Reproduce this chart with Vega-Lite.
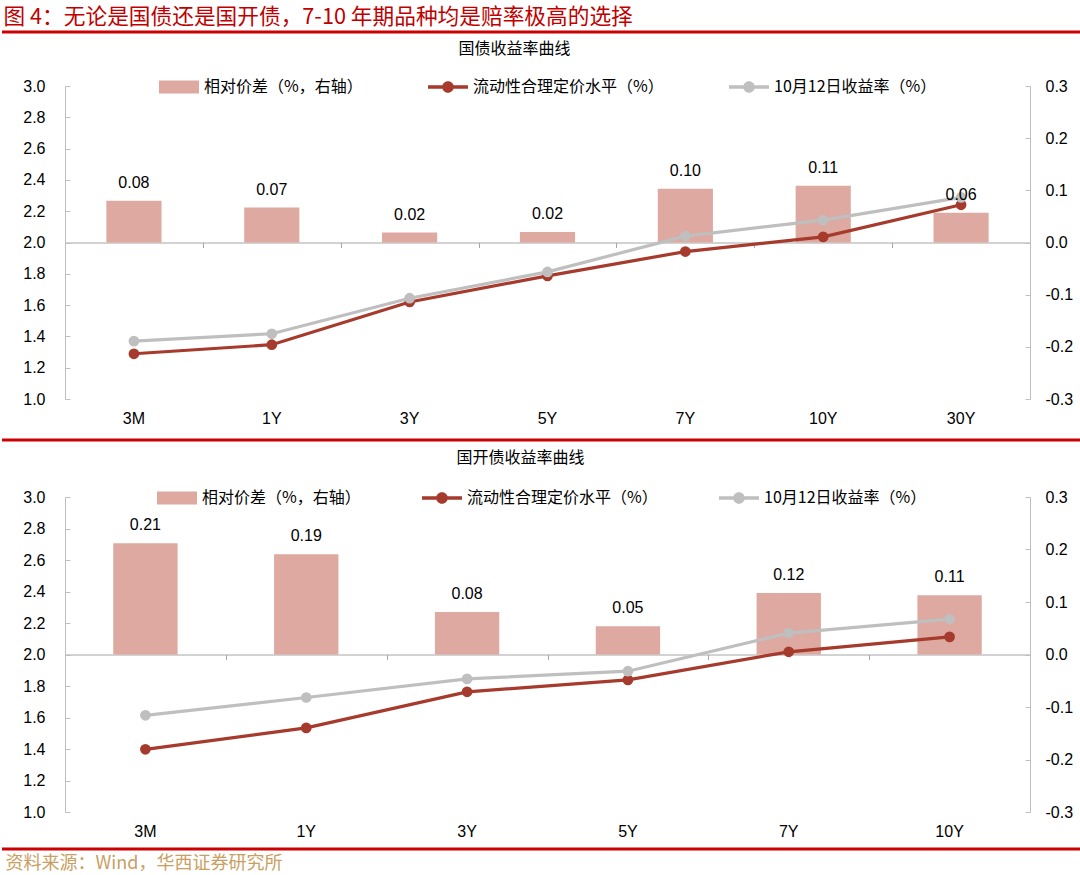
{
  "$schema": "https://vega.github.io/schema/vega-lite/v6.json",
  "autosize": {"type": "pad"},
  "padding": {"left": 0, "right": 0, "top": 6, "bottom": 0},
  "background": "white",
  "title": {
    "text": "图 4：无论是国债还是国开债，7-10 年期品种均是赔率极高的选择",
    "anchor": "start",
    "frame": "bounds",
    "font": "Noto Sans CJK SC",
    "fontSize": 21.7,
    "fontWeight": "normal",
    "color": "#C00000",
    "offset": 2,
    "dx": 3
  },
  "datasets": {
    "gz": [
      {"cat": "3M", "spread": 0.080, "fair": 1.289, "yld": 1.370},
      {"cat": "1Y", "spread": 0.067, "fair": 1.347, "yld": 1.417},
      {"cat": "3Y", "spread": 0.019, "fair": 1.620, "yld": 1.644},
      {"cat": "5Y", "spread": 0.020, "fair": 1.787, "yld": 1.812},
      {"cat": "7Y", "spread": 0.103, "fair": 1.942, "yld": 2.041},
      {"cat": "10Y", "spread": 0.109, "fair": 2.036, "yld": 2.143},
      {"cat": "30Y", "spread": 0.057, "fair": 2.241, "yld": 2.288}
    ],
    "gk": [
      {"cat": "3M", "spread": 0.212, "fair": 1.398, "yld": 1.614},
      {"cat": "1Y", "spread": 0.191, "fair": 1.534, "yld": 1.727},
      {"cat": "3Y", "spread": 0.081, "fair": 1.763, "yld": 1.845},
      {"cat": "5Y", "spread": 0.054, "fair": 1.839, "yld": 1.894},
      {"cat": "7Y", "spread": 0.117, "fair": 2.017, "yld": 2.136},
      {"cat": "10Y", "spread": 0.113, "fair": 2.112, "yld": 2.225}
    ]
  },
  "bounds": "flush",
  "spacing": 98,
  "resolve": {
    "scale": {"x": "independent", "y": "independent", "color": "independent"},
    "legend": {"color": "independent"}
  },
  "vconcat": [
    {
      "width": 1080,
      "height": 313,
      "data": {"name": "gz"},
      "resolve": {"scale": {"y": "independent"}, "axis": {"x": "independent", "y": "independent"}},
      "layer": [
        {
          "mark": {"type": "bar", "width": {"band": 0.4}},
          "encoding": {
            "x": {"field": "cat", "type": "nominal", "sort": null,
                  "scale": {"range": [63, 1028], "paddingInner": 0, "paddingOuter": 0},
                  "axis": {"orient": "bottom", "offset": -156.5, "domain": true, "domainColor": "#A6A6A6", "domainWidth": 1,
                           "ticks": true, "tickBand": "extent", "tickSize": 5, "tickColor": "#A6A6A6", "labels": false, "title": null, "grid": false}},
            "y": {"field": "spread", "type": "quantitative",
                  "scale": {"domain": [-0.3, 0.3], "nice": false, "zero": false},
                  "axis": {"orient": "right", "offset": -52, "values": [-0.3, -0.2, -0.1, 0, 0.1, 0.2, 0.3],
                           "labelExpr": "replace(format(datum.value, '.1f'), '\u2212', '-')",
                           "domainColor": "#BFBFBF", "tickColor": "#BFBFBF", "tickSize": -5, "labelPadding": 20,
                           "labelFont": "Liberation Sans", "labelFontSize": 16, "labelColor": "#000", "grid": false, "title": null}},
            "color": {"datum": "相对价差（%，右轴）", "type": "nominal",
                      "scale": {"domain": ["相对价差（%，右轴）", "流动性合理定价水平（%）", "10月12日收益率（%）"],
                                "range": ["#DDA9A0", "#A63A2C", "#BFBFBF"]},
                      "legend": {"orient": "none", "legendX": 157, "legendY": -19, "direction": "horizontal", "title": null,
                                 "padding": 0, "columnPadding": 65, "labelFont": "Noto Sans CJK SC", "labelFontSize": 16,
                                 "labelLimit": 400, "labelColor": "#000", "labelOffset": 5, "symbolSize": 1600,
                                 "encode": {"symbols": {"update": {
                                   "shape": {"signal": "datum.value === '相对价差（%，右轴）' ? 'M-1,-0.33H1V0.33H-1Z' : 'M-1,-0.09H1V0.09H-1Z M0.29,0A0.29,0.29 0 1,1 -0.29,0A0.29,0.29 0 1,1 0.29,0Z'"},
                                   "fill": {"signal": "datum.value === '相对价差（%，右轴）' ? '#DDA9A0' : datum.value === '流动性合理定价水平（%）' ? '#A63A2C' : '#BFBFBF'"},
                                   "stroke": {"value": "transparent"},
                                   "strokeWidth": {"value": 0},
                                   "size": {"value": 1600},
                                   "opacity": {"value": 1}
                                 }}}}}
          }
        },
        {
          "mark": {"type": "line", "strokeWidth": 3.2, "point": {"filled": true, "size": 115}},
          "encoding": {
            "x": {"field": "cat", "type": "nominal", "sort": null,
                  "axis": {"orient": "bottom", "domain": false, "ticks": false, "tickSize": 0, "labelPadding": 11,
                           "labelFont": "Liberation Sans", "labelFontSize": 16, "labelColor": "#000", "labelAngle": 0, "title": null, "grid": false}},
            "y": {"field": "fair", "type": "quantitative",
                  "scale": {"domain": [1, 3], "nice": false, "zero": false},
                  "axis": {"orient": "left", "offset": -63, "values": [1, 1.2, 1.4, 1.6, 1.8, 2, 2.2, 2.4, 2.6, 2.8, 3], "format": ".1f",
                           "domainColor": "#BFBFBF", "tickColor": "#BFBFBF", "tickSize": -5, "labelPadding": 25,
                           "labelFont": "Liberation Sans", "labelFontSize": 16, "labelColor": "#000", "grid": false, "title": null}},
            "color": {"datum": "流动性合理定价水平（%）", "type": "nominal"}
          }
        },
        {
          "mark": {"type": "line", "strokeWidth": 3.2, "point": {"filled": true, "size": 115}},
          "encoding": {
            "x": {"field": "cat", "type": "nominal", "sort": null,
                  "axis": {"orient": "top", "domain": false, "ticks": false, "labels": false, "grid": false,
                           "title": "国债收益率曲线", "titleX": 512, "titleY": -38, "titleAlign": "center", "titleBaseline": "middle",
                           "titleFont": "Noto Sans CJK SC", "titleFontSize": 16, "titleFontWeight": "normal", "titleColor": "#000"}},
            "y": {"field": "yld", "type": "quantitative",
                  "scale": {"domain": [1, 3], "nice": false, "zero": false}, "axis": null},
            "color": {"datum": "10月12日收益率（%）", "type": "nominal"}
          }
        },
        {
          "mark": {"type": "text", "baseline": "alphabetic", "dy": -13, "font": "Liberation Sans", "fontSize": 16, "color": "#000"},
          "encoding": {
            "x": {"field": "cat", "type": "nominal", "sort": null, "axis": null},
            "y": {"field": "spread", "type": "quantitative",
                  "scale": {"domain": [-0.3, 0.3], "nice": false, "zero": false}, "axis": null},
            "text": {"field": "spread", "type": "quantitative", "format": ".2f"}
          }
        },
        {
          "data": {"values": [{}]},
          "mark": {"type": "rule", "color": "#CC0000", "strokeWidth": 3},
          "encoding": {
            "y": {"datum": 3.345, "type": "quantitative", "scale": {"domain": [1, 3], "nice": false, "zero": false}, "axis": null}
          }
        },
        {
          "data": {"values": [{}]},
          "mark": {"type": "rule", "color": "#CC0000", "strokeWidth": 3},
          "encoding": {
            "y": {"datum": 0.738, "type": "quantitative", "scale": {"domain": [1, 3], "nice": false, "zero": false}, "axis": null}
          }
        }
      ]
    },
    {
      "width": 1080,
      "height": 315,
      "data": {"name": "gk"},
      "resolve": {"scale": {"y": "independent"}, "axis": {"x": "independent", "y": "independent"}},
      "layer": [
        {
          "mark": {"type": "bar", "width": {"band": 0.4}},
          "encoding": {
            "x": {"field": "cat", "type": "nominal", "sort": null,
                  "scale": {"range": [63, 1028], "paddingInner": 0, "paddingOuter": 0},
                  "axis": {"orient": "bottom", "offset": -157.5, "domain": true, "domainColor": "#A6A6A6", "domainWidth": 1,
                           "ticks": true, "tickBand": "extent", "tickSize": 5, "tickColor": "#A6A6A6", "labels": false, "title": null, "grid": false}},
            "y": {"field": "spread", "type": "quantitative",
                  "scale": {"domain": [-0.3, 0.3], "nice": false, "zero": false},
                  "axis": {"orient": "right", "offset": -52, "values": [-0.3, -0.2, -0.1, 0, 0.1, 0.2, 0.3],
                           "labelExpr": "replace(format(datum.value, '.1f'), '\u2212', '-')",
                           "domainColor": "#BFBFBF", "tickColor": "#BFBFBF", "tickSize": -5, "labelPadding": 20,
                           "labelFont": "Liberation Sans", "labelFontSize": 16, "labelColor": "#000", "grid": false, "title": null}},
            "color": {"datum": "相对价差（%，右轴）", "type": "nominal",
                      "scale": {"domain": ["相对价差（%，右轴）", "流动性合理定价水平（%）", "10月12日收益率（%）"],
                                "range": ["#DDA9A0", "#A63A2C", "#BFBFBF"]},
                      "legend": {"orient": "none", "legendX": 155, "legendY": -19, "direction": "horizontal", "title": null,
                                 "padding": 0, "columnPadding": 61, "labelFont": "Noto Sans CJK SC", "labelFontSize": 16,
                                 "labelLimit": 400, "labelColor": "#000", "labelOffset": 5, "symbolSize": 1600,
                                 "encode": {"symbols": {"update": {
                                   "shape": {"signal": "datum.value === '相对价差（%，右轴）' ? 'M-1,-0.33H1V0.33H-1Z' : 'M-1,-0.09H1V0.09H-1Z M0.29,0A0.29,0.29 0 1,1 -0.29,0A0.29,0.29 0 1,1 0.29,0Z'"},
                                   "fill": {"signal": "datum.value === '相对价差（%，右轴）' ? '#DDA9A0' : datum.value === '流动性合理定价水平（%）' ? '#A63A2C' : '#BFBFBF'"},
                                   "stroke": {"value": "transparent"},
                                   "strokeWidth": {"value": 0},
                                   "size": {"value": 1600},
                                   "opacity": {"value": 1}
                                 }}}}}
          }
        },
        {
          "mark": {"type": "line", "strokeWidth": 3.2, "point": {"filled": true, "size": 115}},
          "encoding": {
            "x": {"field": "cat", "type": "nominal", "sort": null,
                  "axis": {"orient": "bottom", "domain": false, "ticks": false, "tickSize": 0, "labelPadding": 11,
                           "labelFont": "Liberation Sans", "labelFontSize": 16, "labelColor": "#000", "labelAngle": 0, "grid": false,
                           "title": "资料来源：Wind，华西证券研究所", "titleX": 3, "titleY": 51, "titleAlign": "left", "titleBaseline": "middle",
                           "titleFont": "Noto Sans CJK SC", "titleFontSize": 18, "titleFontWeight": "normal", "titleColor": "#C9A063"}},
            "y": {"field": "fair", "type": "quantitative",
                  "scale": {"domain": [1, 3], "nice": false, "zero": false},
                  "axis": {"orient": "left", "offset": -63, "values": [1, 1.2, 1.4, 1.6, 1.8, 2, 2.2, 2.4, 2.6, 2.8, 3], "format": ".1f",
                           "domainColor": "#BFBFBF", "tickColor": "#BFBFBF", "tickSize": -5, "labelPadding": 25,
                           "labelFont": "Liberation Sans", "labelFontSize": 16, "labelColor": "#000", "grid": false, "title": null}},
            "color": {"datum": "流动性合理定价水平（%）", "type": "nominal"}
          }
        },
        {
          "mark": {"type": "line", "strokeWidth": 3.2, "point": {"filled": true, "size": 115}},
          "encoding": {
            "x": {"field": "cat", "type": "nominal", "sort": null,
                  "axis": {"orient": "top", "domain": false, "ticks": false, "labels": false, "grid": false,
                           "title": "国开债收益率曲线", "titleX": 518, "titleY": -40, "titleAlign": "center", "titleBaseline": "middle",
                           "titleFont": "Noto Sans CJK SC", "titleFontSize": 16, "titleFontWeight": "normal", "titleColor": "#000"}},
            "y": {"field": "yld", "type": "quantitative",
                  "scale": {"domain": [1, 3], "nice": false, "zero": false}, "axis": null},
            "color": {"datum": "10月12日收益率（%）", "type": "nominal"}
          }
        },
        {
          "mark": {"type": "text", "baseline": "alphabetic", "dy": -13, "font": "Liberation Sans", "fontSize": 16, "color": "#000"},
          "encoding": {
            "x": {"field": "cat", "type": "nominal", "sort": null, "axis": null},
            "y": {"field": "spread", "type": "quantitative",
                  "scale": {"domain": [-0.3, 0.3], "nice": false, "zero": false}, "axis": null},
            "text": {"field": "spread", "type": "quantitative", "format": ".2f"}
          }
        },
        {
          "data": {"values": [{}]},
          "mark": {"type": "rule", "color": "#CC0000", "strokeWidth": 3},
          "encoding": {
            "y": {"datum": 0.765, "type": "quantitative", "scale": {"domain": [1, 3], "nice": false, "zero": false}, "axis": null}
          }
        }
      ]
    }
  ],
  "config": {
    "view": {"stroke": null},
    "font": "Liberation Sans",
    "axis": {"grid": false}
  }
}
